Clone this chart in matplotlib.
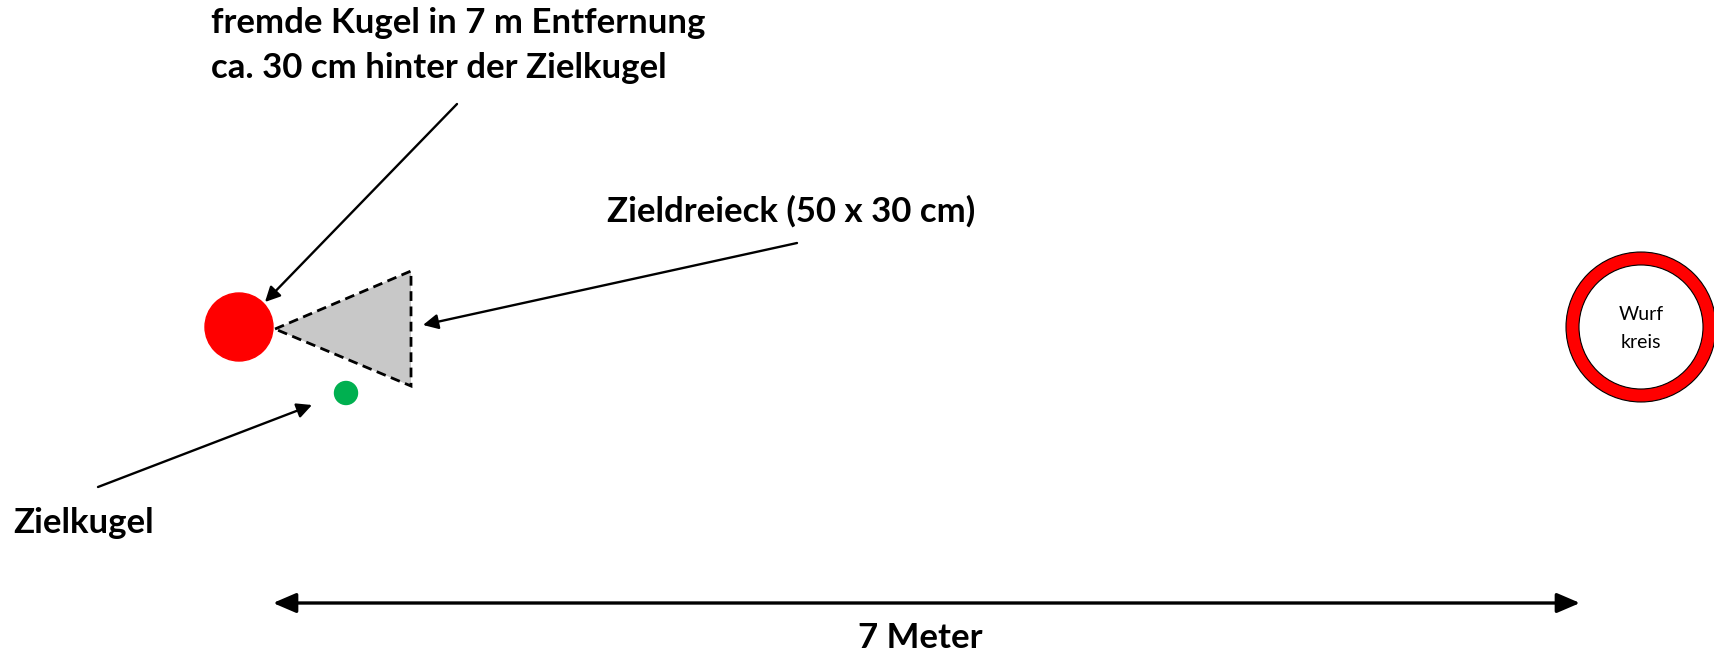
import matplotlib
matplotlib.use("Agg")
import matplotlib.pyplot as plt
from matplotlib.patches import Circle, Polygon

# ---- labels ----
title_lines = ["fremde Kugel in 7 m Entfernung", "ca. 30 cm hinter der Zielkugel"]
triangle_label = "Zieldreieck (50 x 30 cm)"
target_label = "Zielkugel"
distance_label = "7 Meter"
circle_label = ["Wurf", "kreis"]

# ---- scene elements (pixel coordinates of the 1715x655 canvas) ----
foreign_ball = (239, 327)
foreign_r = 34
target_ball = (346, 393)
target_r = 11.5
triangle_pts = [(275, 329), (411, 271), (411, 386)]
throw_circle = (1641, 327)
throw_r_out = 75
throw_r_in = 62

W, H = 1715, 655
fig = plt.figure(figsize=(W / 100, H / 100), dpi=100)
ax = fig.add_axes([0, 0, 1, 1])
ax.set_xlim(0, W)
ax.set_ylim(H, 0)
ax.axis("off")

FONT = "Lato"

# foreign ball
ax.add_patch(Circle(foreign_ball, foreign_r, color="#FF0000", zorder=3))
# target ball
ax.add_patch(Circle(target_ball, target_r, color="#00B050", zorder=3))
# triangle
ax.add_patch(Polygon(triangle_pts, closed=True, facecolor="#C8C8C8",
                     edgecolor="black", lw=2.0, linestyle=(0, (3.5, 2)), zorder=2))
# throw circle
ax.add_patch(Circle(throw_circle, throw_r_out, facecolor="#FF0000", edgecolor="black", lw=0.8, zorder=2))
ax.add_patch(Circle(throw_circle, throw_r_in, facecolor="white", edgecolor="black", lw=0.8, zorder=3))
ax.text(throw_circle[0], throw_circle[1] - 13, circle_label[0], ha="center", va="center",
        fontsize=14, family=FONT, zorder=4)
ax.text(throw_circle[0], throw_circle[1] + 15, circle_label[1], ha="center", va="center",
        fontsize=14, family=FONT, zorder=4)

arrow_kw = dict(arrowstyle="-|>,head_length=0.9,head_width=0.45", lw=1.7, color="black",
                shrinkA=0, shrinkB=0)

# arrows
ax.annotate("", xy=(265, 302), xytext=(457, 104), arrowprops=arrow_kw)
ax.annotate("", xy=(423, 325), xytext=(797, 243), arrowprops=arrow_kw)
ax.annotate("", xy=(312, 405), xytext=(98, 487), arrowprops=arrow_kw)

# 7 m double arrow
ax.annotate("", xy=(273, 603), xytext=(1580, 603),
            arrowprops=dict(arrowstyle="<|-|>,head_length=1.4,head_width=0.6", lw=2.4,
                            color="black", shrinkA=0, shrinkB=0))

# texts
ax.text(211, 23, title_lines[0], ha="left", va="center", fontsize=25, fontweight="bold", family=FONT)
ax.text(211, 68, title_lines[1], ha="left", va="center", fontsize=25, fontweight="bold", family=FONT)
ax.text(791, 211, triangle_label, ha="center", va="center", fontsize=25, fontweight="bold", family=FONT)
ax.text(13, 523, target_label, ha="left", va="center", fontsize=25, fontweight="bold", family=FONT)
ax.text(920, 638, distance_label, ha="center", va="center", fontsize=25, fontweight="bold", family=FONT)

fig.savefig("out.png", dpi=100, facecolor="white")
